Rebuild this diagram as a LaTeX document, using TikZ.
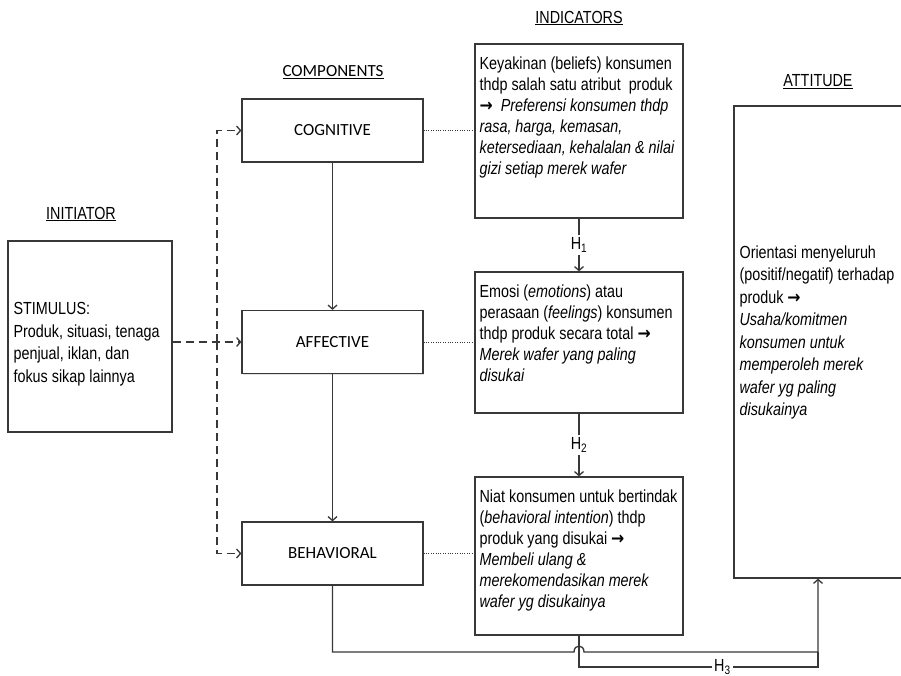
\documentclass[tikz,border=0pt]{standalone}
\usepackage{fontspec}
\newfontfamily\narrowfont{Liberation Sans}[FakeStretch=0.82]
\newfontfamily\calfont{Carlito}
\newfontfamily\arrfont{DejaVu Sans}[FakeStretch=0.9]
\newcommand{\rarr}{{\arrfont\bfseries →}}
\usetikzlibrary{arrows.meta,shadows}
\definecolor{linec}{HTML}{383838}

\begin{document}
\begin{tikzpicture}[
  x=1pt,y=-1pt,
  >={Straight Barb[length=4pt,width=9pt]},
  box/.style={rectangle,draw=linec,line width=1.2pt,fill=white,inner sep=0pt,
    drop shadow={shadow xshift=1.2pt,shadow yshift=-1.2pt,fill=black!22}},
  comp/.style={box,minimum width=181pt,minimum height=63pt,
    font=\calfont\fontsize{17pt}{20pt}\selectfont},
  txt/.style={anchor=north west,inner sep=0pt,align=left,
    font=\narrowfont\fontsize{17.5pt}{21pt}\selectfont},
  hdr/.style={inner sep=0pt,font=\narrowfont\fontsize{17.5pt}{21pt}\selectfont},
  hlbl/.style={hdr,fill=white,inner sep=2.5pt},
  conn/.style={draw=linec,line width=1.3pt},
  dsh/.style={conn,dash pattern=on 8pt off 5pt},
  dot/.style={conn,line width=1pt,dash pattern=on 1pt off 1.4pt}]

\useasboundingbox (0,0) rectangle (901,676);
\clip (0,0) rectangle (901,676);
\fill[white] (0,0) rectangle (901,676);

% headings
\node[hdr] (hini) at (81,214) {\underline{INITIATOR}};
\node[hdr,font=\calfont\fontsize{17pt}{20pt}\selectfont] (hcomp) at (333,72) {\underline{COMPONENTS}};
\node[hdr] (hind) at (579,18) {\underline{INDICATORS}};
\node[hdr] (hatt) at (818,82) {\underline{ATTITUDE}};

% initiator
\node[box,minimum width=164pt,minimum height=191pt] (stim) at (90,336.5) {};
\node[txt,font=\narrowfont\fontsize{17.5pt}{22.5pt}\selectfont] (stimtxt)
  at ([xshift=6pt,yshift=-62pt]stim.north west)
  {STIMULUS:\\Produk, situasi, tenaga\\penjual, iklan, dan\\fokus sikap lainnya};

% components
\node[comp] (cog) at (332.5,130.5) {COGNITIVE};
\node[comp] (aff) at (332.5,342) {AFFECTIVE};
\node[comp] (beh) at (332.5,553.5) {BEHAVIORAL};

% indicators
\node[box,minimum width=208pt,minimum height=174pt] (ind1) at (579,131) {};
\node[txt] (ind1txt) at ([xshift=5pt,yshift=-13pt]ind1.north west)
  {Keyakinan (beliefs) konsumen\\thdp salah satu atribut\ \ produk\\
   \rarr\ \ \textit{Preferensi konsumen thdp}\\\textit{rasa, harga, kemasan,}\\
   \textit{ketersediaan, kehalalan \& nilai}\\\textit{gizi setiap merek wafer}};

\node[box,minimum width=208pt,minimum height=141pt] (ind2) at (579,342.5) {};
\node[txt] (ind2txt) at ([xshift=5pt,yshift=-13pt]ind2.north west)
  {Emosi (\textit{emotions}) atau\\perasaan (\textit{feelings}) konsumen\\
   thdp produk secara total \rarr\\\textit{Merek wafer yang paling}\\\textit{disukai}};

\node[box,minimum width=208pt,minimum height=158pt] (ind3) at (579,556) {};
\node[txt] (ind3txt) at ([xshift=5pt,yshift=-13pt]ind3.north west)
  {Niat konsumen untuk bertindak\\(\textit{behavioral intention}) thdp\\
   produk yang disukai \rarr\\\textit{Membeli ulang \&}\\
   \textit{merekomendasikan merek}\\\textit{wafer yg disukainya}};

% attitude
\node[box,minimum width=168pt,minimum height=472pt] (att) at (818,342) {};
\node[txt,font=\narrowfont\fontsize{17.5pt}{22.5pt}\selectfont] (atttxt)
  at ([xshift=6pt,yshift=-140pt]att.north west)
  {Orientasi menyeluruh\\(positif/negatif) terhadap\\produk \rarr\\
   \textit{Usaha/komitmen}\\\textit{konsumen untuk}\\\textit{memperoleh merek}\\
   \textit{wafer yg paling}\\\textit{disukainya}};

% stimulus to components
\coordinate (split) at (217,342);
\draw[dsh,->] (aff.west -| stim.east) -- (aff.west);
\draw[dsh,->] (split) |- (cog.west);
\draw[dsh,->] (split) |- (beh.west);

% component chain
\draw[conn,->] (cog) -- (aff);
\draw[conn,->] (aff) -- (beh);

% components to indicators
\draw[dot] (cog.east) -- (cog.east -| ind1.west);
\draw[dot] (aff.east) -- (aff.east -| ind2.west);
\draw[dot] (beh.east) -- (beh.east -| ind3.west);

% hypotheses
\draw[conn,->] (ind1) -- node[hlbl] {H\textsubscript{1}} (ind2);
\draw[conn,->] (ind2) -- node[hlbl] {H\textsubscript{2}} (ind3);

\coordinate (hopL) at (574,652);
\coordinate (hopR) at (584,652);
\coordinate (join) at (818,652);
\coordinate (h3end) at (818,667);
\draw[conn,->] (beh.south) |- (hopL)
  .. controls ([yshift=8pt]hopL) and ([yshift=8pt]hopR) .. (hopR) -| (att.south);
\draw[conn] (ind3.south) |- node[hlbl,pos=0.8] {H\textsubscript{3}} (h3end) -- (join);
\end{tikzpicture}
\end{document}
